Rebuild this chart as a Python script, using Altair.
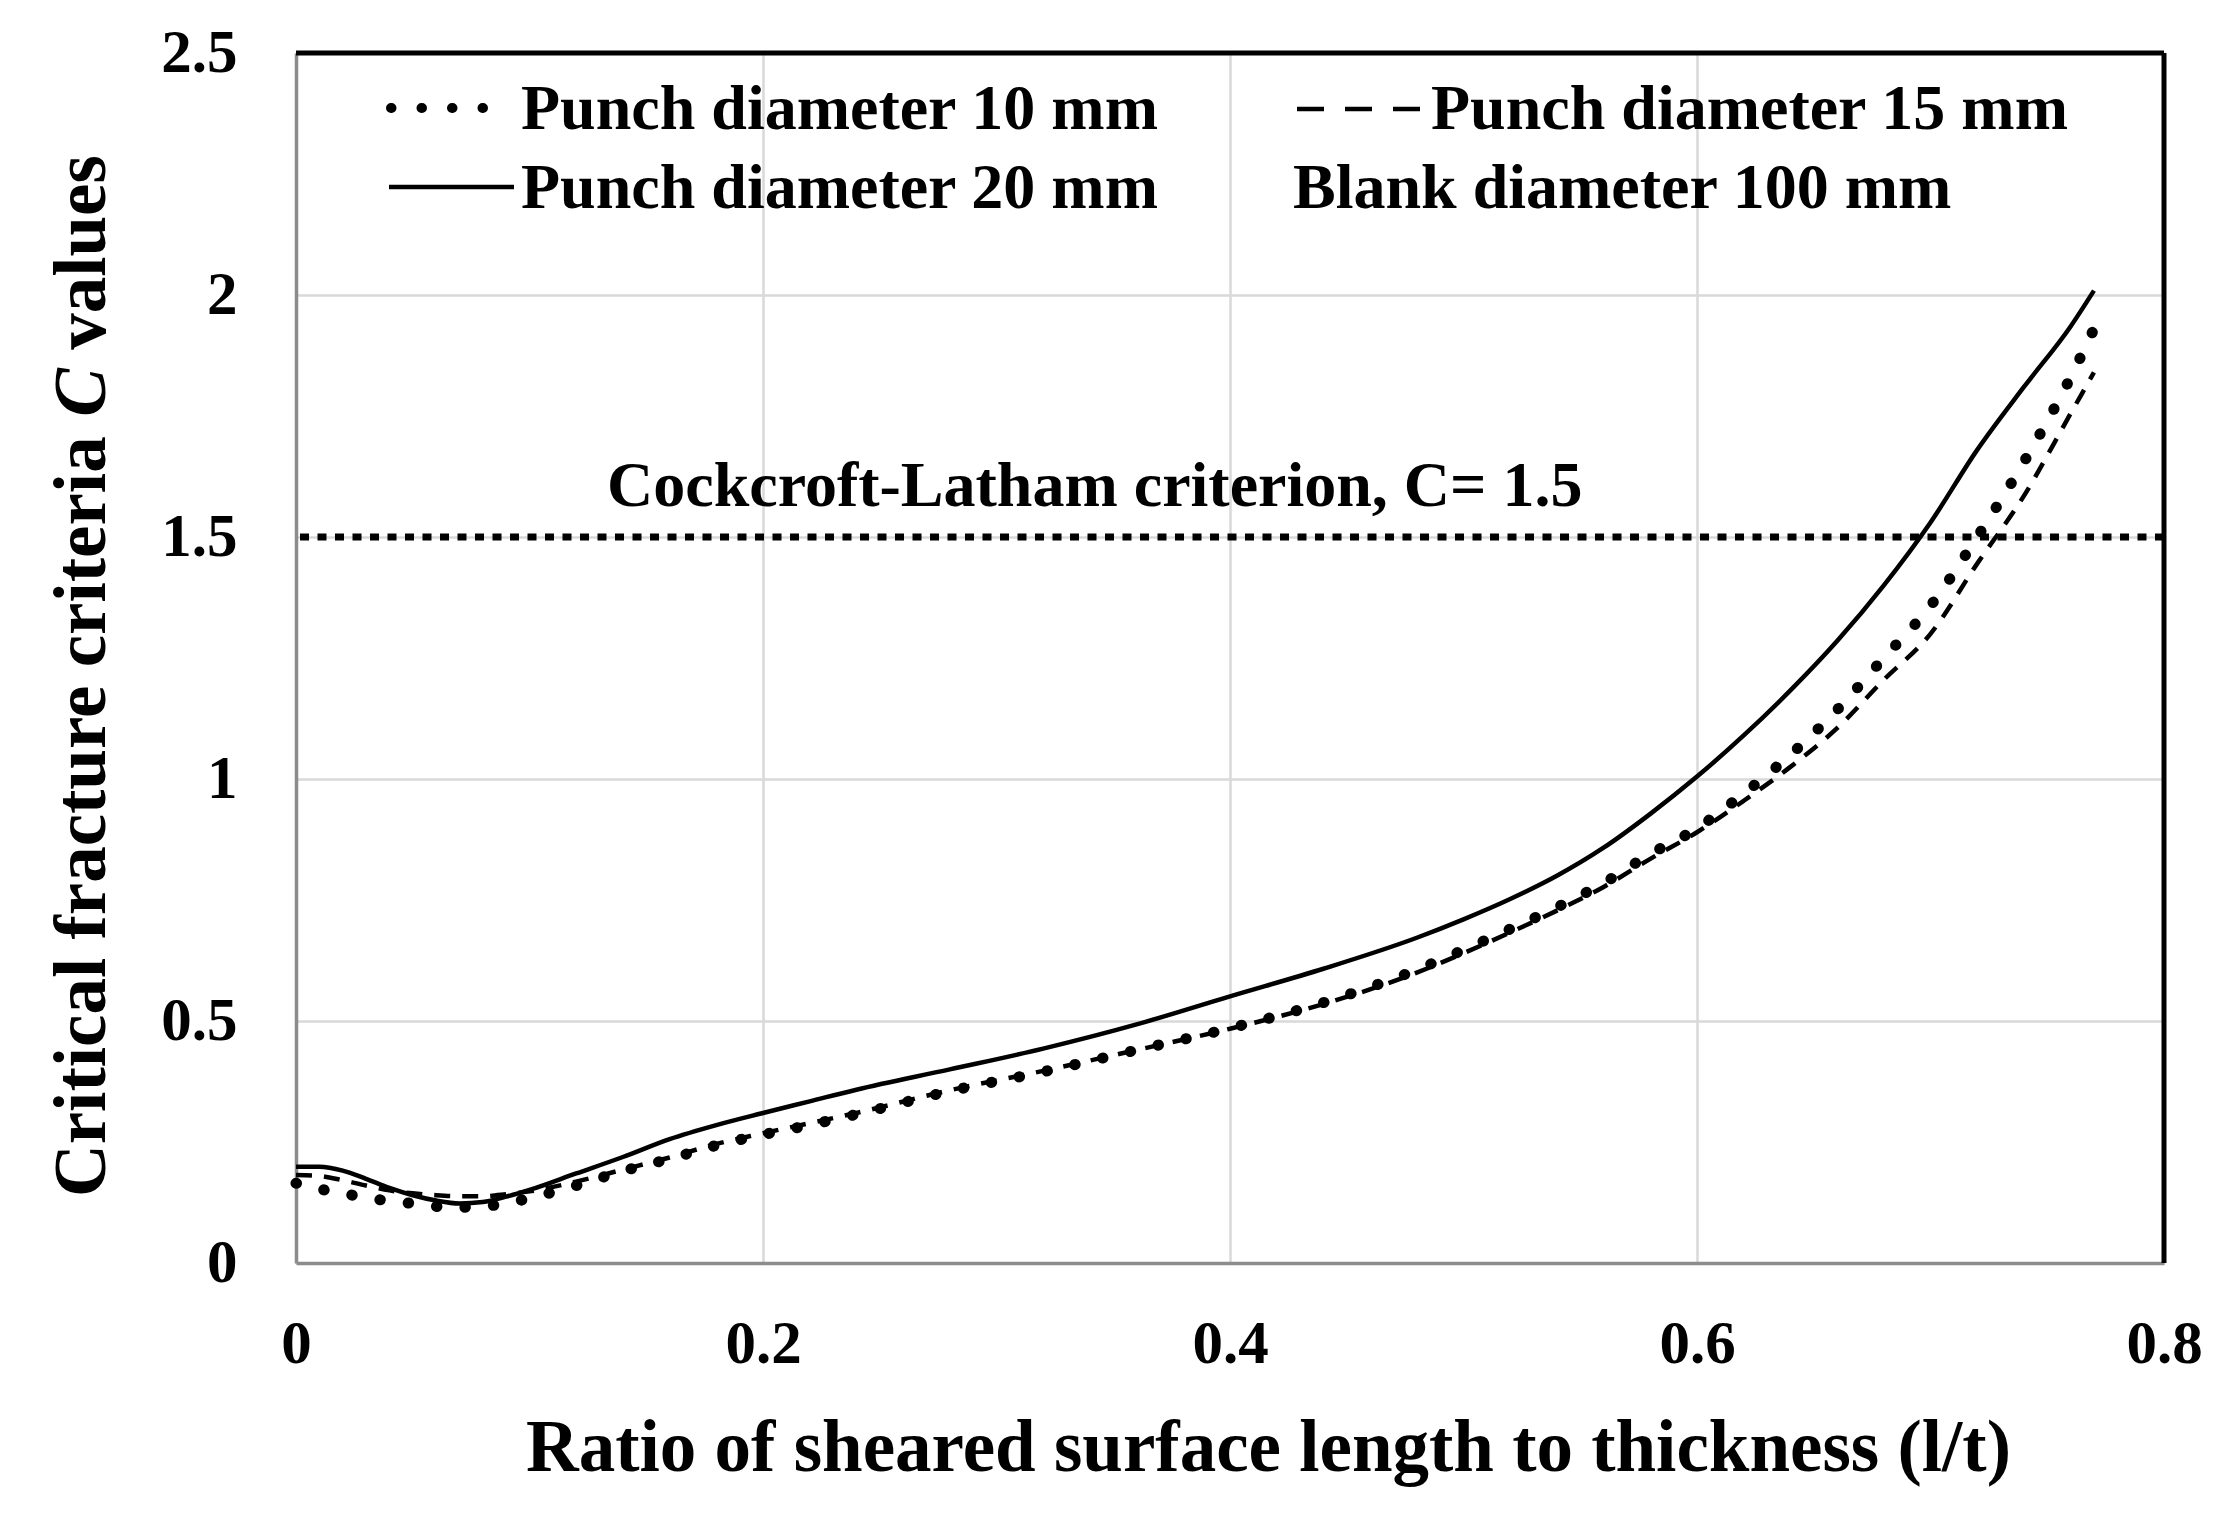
import altair as alt
import pandas as pd

# ---------------- data ----------------
x_ratio = [0.00, 0.01, 0.02, 0.03, 0.04, 0.05, 0.06, 0.07, 0.08, 0.09,
           0.10, 0.12, 0.14, 0.16, 0.18, 0.20, 0.22, 0.24, 0.28, 0.32,
           0.36, 0.40, 0.44, 0.48, 0.50, 0.52, 0.54, 0.56, 0.58, 0.60,
           0.62, 0.64, 0.66, 0.68, 0.70, 0.72, 0.74, 0.76, 0.77]

c_punch10 = [0.165, 0.153, 0.144, 0.135, 0.128, 0.123, 0.117, 0.115, 0.117, 0.123,
             0.134, 0.160, 0.190, 0.215, 0.243, 0.265, 0.285, 0.307, 0.355, 0.395,
             0.440, 0.485, 0.538, 0.606, 0.647, 0.690, 0.735, 0.785, 0.845, 0.898,
             0.970, 1.050, 1.143, 1.250, 1.358, 1.500, 1.655, 1.830, 1.930]

c_punch15 = [0.182, 0.180, 0.171, 0.160, 0.150, 0.144, 0.140, 0.138, 0.138, 0.142,
             0.148, 0.168, 0.193, 0.218, 0.246, 0.268, 0.289, 0.310, 0.357, 0.397,
             0.440, 0.484, 0.535, 0.600, 0.640, 0.683, 0.728, 0.777, 0.835, 0.890,
             0.955, 1.025, 1.105, 1.205, 1.300, 1.445, 1.585, 1.755, 1.840]

c_punch20 = [0.199, 0.199, 0.191, 0.174, 0.155, 0.140, 0.129, 0.123, 0.126, 0.137,
             0.151, 0.185, 0.219, 0.256, 0.285, 0.310, 0.334, 0.358, 0.400, 0.443,
             0.493, 0.551, 0.608, 0.672, 0.710, 0.752, 0.800, 0.858, 0.928, 1.005,
             1.090, 1.183, 1.285, 1.400, 1.530, 1.680, 1.810, 1.935, 2.009]

x_ticks = [0, 0.2, 0.4, 0.6, 0.8]
y_ticks = [0, 0.5, 1, 1.5, 2, 2.5]

legend_labels = ["Punch diameter 10 mm", "Punch diameter 15 mm",
                 "Punch diameter 20 mm", "Blank diameter 100 mm"]
criterion_value = [1.5]
criterion_label = ["Cockcroft-Latham criterion, C= 1.5"]
x_title = "Ratio of sheared surface length to thickness (l/t)"
y_title_parts = ["Critical fracture criteria", "C", "values"]

# ---------------- layout / style ----------------
W, H = 1868, 1210
FONT = "Liberation Serif"

df = pd.DataFrame({"x": x_ratio, "c10": c_punch10, "c15": c_punch15, "c20": c_punch20})

xscale = alt.Scale(domain=[0, 0.8], nice=False, zero=False)
yscale = alt.Scale(domain=[0, 2.5], nice=False, zero=False)

xaxis = alt.Axis(values=x_ticks, format="~g", grid=True, ticks=False, tickSize=0,
                 labelPadding=99, labelBaseline="alphabetic", labelFlush=False,
                 title=x_title, titleX=972, titleY=207, titleAlign="center",
                 titleBaseline="alphabetic")
yaxis = alt.Axis(values=y_ticks, format="~g", grid=True, ticks=False, tickSize=0,
                 labelPadding=59, labelFlush=False, title=None)

X = alt.X("x:Q", scale=xscale, axis=xaxis)

base = alt.Chart(df)

line10 = base.mark_line(color="black", strokeWidth=11, strokeCap="round",
                        strokeDash=[0.5, 28], interpolate="monotone").encode(
    x=X, y=alt.Y("c10:Q", scale=yscale, axis=yaxis))
line15 = base.mark_line(color="black", strokeWidth=4.5, strokeDash=[16, 12],
                        interpolate="monotone").encode(
    x=X, y=alt.Y("c15:Q", scale=yscale, axis=yaxis))
line20 = base.mark_line(color="black", strokeWidth=4.5,
                        interpolate="monotone").encode(
    x=X, y=alt.Y("c20:Q", scale=yscale, axis=yaxis))

crit_rule = alt.Chart(pd.DataFrame({"c": criterion_value})).mark_rule(
    color="black", strokeWidth=7, strokeDash=[9, 8.5]).encode(
    y=alt.Y("c:Q", scale=yscale, axis=yaxis))

txt_style = dict(font=FONT, fontSize=64, fontWeight="bold", color="black",
                 align="left", baseline="alphabetic")

crit_text = alt.Chart(pd.DataFrame({"t": criterion_label})).mark_text(**txt_style).encode(
    text="t:N", x=alt.value(311), y=alt.value(453))

one = pd.DataFrame({"k": [0]})

def label(t, px, py):
    return alt.Chart(pd.DataFrame({"t": [t]})).mark_text(**txt_style).encode(
        text="t:N", x=alt.value(px), y=alt.value(py))

leg_t1 = label(legend_labels[0], 225, 76)
leg_t2 = label(legend_labels[1], 1135, 76)
leg_t3 = label(legend_labels[2], 225, 155)
leg_t4 = label(legend_labels[3], 997, 155)

leg_s1 = alt.Chart(one).mark_rule(color="black", strokeWidth=10, strokeCap="round",
                                  strokeDash=[0.5, 30]).encode(
    x=alt.value(95), x2=alt.value(197), y=alt.value(55))
leg_s2 = alt.Chart(one).mark_rule(color="black", strokeWidth=4.5,
                                  strokeDash=[27, 21]).encode(
    x=alt.value(1001), x2=alt.value(1125), y=alt.value(56))
leg_s3 = alt.Chart(one).mark_rule(color="black", strokeWidth=4.5).encode(
    x=alt.value(93), x2=alt.value(218), y=alt.value(134))

# y title with italic C, drawn as rotated text pieces
yt_style = dict(font=FONT, fontSize=73, fontWeight="bold", color="black",
                align="left", baseline="alphabetic", angle=270)
yt1 = alt.Chart(pd.DataFrame({"t": [y_title_parts[0]]})).mark_text(**yt_style).encode(
    text="t:N", x=alt.value(-191), y=alt.value(1144))
yt2 = alt.Chart(pd.DataFrame({"t": [y_title_parts[1]]})).mark_text(
    fontStyle="italic", **yt_style).encode(
    text="t:N", x=alt.value(-191), y=alt.value(363.7))
yt3 = alt.Chart(pd.DataFrame({"t": [y_title_parts[2]]})).mark_text(**yt_style).encode(
    text="t:N", x=alt.value(-191), y=alt.value(296.8))

# black frame on top and right
top_border = alt.Chart(one).mark_rule(color="black", strokeWidth=5).encode(
    x=alt.value(0), x2=alt.value(W), y=alt.value(0))
right_border = alt.Chart(one).mark_rule(color="black", strokeWidth=5).encode(
    x=alt.value(W), y=alt.value(0), y2=alt.value(H))

chart = alt.layer(
    crit_rule, line15, line10, line20,
    crit_text, leg_s1, leg_s2, leg_s3, leg_t1, leg_t2, leg_t3, leg_t4,
    yt1, yt2, yt3, top_border, right_border
).properties(
    width=W, height=H,
    autosize=alt.AutoSizeParams(type="none"),
    padding={"left": 288, "top": 45, "right": 60, "bottom": 250},
    background="white",
).configure_view(
    stroke=None
).configure_axis(
    labelFont=FONT, labelFontSize=61, labelFontWeight="bold", labelColor="black",
    titleFont=FONT, titleFontSize=73, titleFontWeight="bold", titleColor="black",
    gridColor="#d9d9d9", gridWidth=2.5,
    domainColor="#8c8c8c", domainWidth=3.5,
)

chart.save("out.html", embed_options={"renderer": "svg", "actions": False})
